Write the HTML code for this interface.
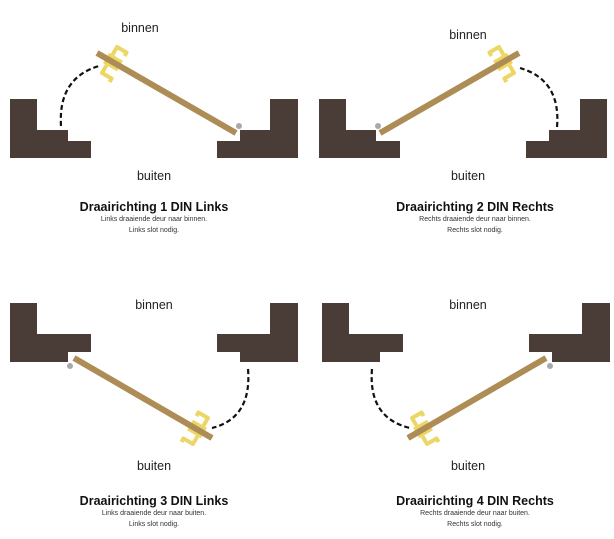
<!DOCTYPE html>
<html><head><meta charset="utf-8"><style>
html,body{margin:0;padding:0;background:#fff;width:614px;height:539px;overflow:hidden}
svg{display:block}
text{font-family:"Liberation Sans",sans-serif;fill:#222}
.l{font-size:12.5px}
.t{font-size:12.5px;font-weight:bold;fill:#111}
.s{font-size:7px;fill:#333}
</style></head><body>
<svg width="614" height="539" viewBox="0 0 614 539" xmlns="http://www.w3.org/2000/svg">
<defs>
<g id="h">
<rect x="-8" y="-6" width="16" height="12" fill="#ecd766"/>
<path d="M-4,-6 v-9 h11 v4 M-4,6 v9 h11 v4" fill="none" stroke="#ecd766" stroke-width="4" stroke-linejoin="round"/>
</g>
</defs>
<g fill="#4a3d37">
<polygon points="10,99 37,99 37,130 68,130 68,141 91,141 91,158 10,158"/>
<polygon points="298,99 298,158 217,158 217,141 240,141 240,130 270,130 270,99"/>
<polygon points="319,99 346,99 346,130 376,130 376,141 400,141 400,158 319,158"/>
<polygon points="607,99 607,158 526,158 526,141 549,141 549,130 580,130 580,99"/>
<polygon points="10,303 37,303 37,334 91,334 91,352 68,352 68,362 10,362"/>
<polygon points="298,303 298,362 240,362 240,352 217,352 217,334 270,334 270,303"/>
<polygon points="322,303 349,303 349,334 403,334 403,352 380,352 380,362 322,362"/>
<polygon points="610,303 610,362 552,362 552,352 529,352 529,334 582,334 582,303"/>
</g>
<g fill="#a9a9a9">
<circle cx="239" cy="126" r="3"/><circle cx="378" cy="126" r="3"/>
<circle cx="70" cy="366" r="3"/><circle cx="550" cy="366" r="3"/>
</g>
<g fill="none" stroke="#111" stroke-width="2.2" stroke-dasharray="5,3">
<path d="M61,126 Q58,78 99,66"/>
<path d="M557,127 Q561,80 520,68"/>
<path d="M248,369 Q252,418 212,428"/>
<path d="M372,369 Q368,418 410,428"/>
</g>
<use href="#h" transform="translate(113,62) rotate(30)"/>
<use href="#h" transform="translate(503,62) rotate(-30) scale(-1,1)"/>
<use href="#h" transform="translate(197,429) rotate(30) scale(-1,1)"/>
<use href="#h" transform="translate(423,429) rotate(-30)"/>
<g stroke="#ad8c55" stroke-width="6">
<line x1="97" y1="53" x2="236" y2="133"/>
<line x1="519" y1="53" x2="380" y2="133"/>
<line x1="74" y1="358" x2="212" y2="438"/>
<line x1="546" y1="358" x2="408" y2="438"/>
</g>
<g text-anchor="middle">
<text class="l" x="140" y="32">binnen</text>
<text class="l" x="154" y="180">buiten</text>
<text class="t" x="154" y="211">Draairichting 1 DIN Links</text>
<text class="s" x="154" y="221">Links draaiende deur naar binnen.</text>
<text class="s" x="154" y="232">Links slot nodig.</text>

<text class="l" x="468" y="39">binnen</text>
<text class="l" x="468" y="180">buiten</text>
<text class="t" x="475" y="211">Draairichting 2 DIN Rechts</text>
<text class="s" x="475" y="221">Rechts draaiende deur naar binnen.</text>
<text class="s" x="475" y="232">Rechts slot nodig.</text>

<text class="l" x="154" y="309">binnen</text>
<text class="l" x="154" y="470">buiten</text>
<text class="t" x="154" y="505">Draairichting 3 DIN Links</text>
<text class="s" x="154" y="515">Links draaiende deur naar buiten.</text>
<text class="s" x="154" y="526">Links slot nodig.</text>

<text class="l" x="468" y="309">binnen</text>
<text class="l" x="468" y="470">buiten</text>
<text class="t" x="475" y="505">Draairichting 4 DIN Rechts</text>
<text class="s" x="475" y="515">Rechts draaiende deur naar buiten.</text>
<text class="s" x="475" y="526">Rechts slot nodig.</text>
</g>
</svg>
</body></html>
